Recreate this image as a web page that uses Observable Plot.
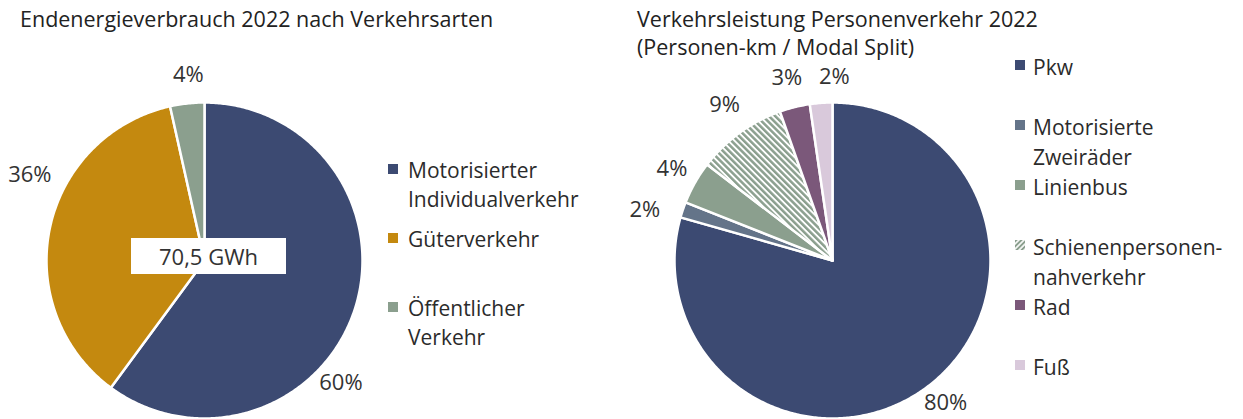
<!DOCTYPE html>
<html>
<head>
<meta charset="utf-8">
<script src="https://cdn.jsdelivr.net/npm/d3@7"></script>
<script src="https://cdn.jsdelivr.net/npm/@observablehq/plot@0.6"></script>
<style>
  body { margin: 0; background: #fff; }
  #root { position: relative; width: 1243px; height: 419px; font-family: "Open Sans", sans-serif; color: #2b2b2b; overflow: hidden; }
  .abs { position: absolute; white-space: nowrap; }
  .title { font-size: 21.5px; line-height: 22px; color: #222; }
  .leg { font-size: 21px; line-height: 29px; }
</style>
</head>
<body>
<div id="root"></div>
<script>
// ---------- data ----------
const leftTitle = ["Endenergieverbrauch 2022 nach Verkehrsarten"];
const leftCategories = ["Motorisierter Individualverkehr", "Güterverkehr", "Öffentlicher Verkehr"];
const leftLegendLines = [["Motorisierter", "Individualverkehr"], ["Güterverkehr"], ["Öffentlicher", "Verkehr"]];
const leftValues = [60.1, 36.4, 3.5];
const leftLabels = ["60%", "36%", "4%"];
const leftTotal = "70,5 GWh";

const rightTitle = ["Verkehrsleistung Personenverkehr 2022", "(Personen-km / Modal Split)"];
const rightCategories = ["Pkw", "Motorisierte Zweiräder", "Linienbus", "Schienenpersonennahverkehr", "Rad", "Fuß"];
const rightLegendLines = [["Pkw"], ["Motorisierte", "Zweiräder"], ["Linienbus"], ["Schienenpersonen-", "nahverkehr"], ["Rad"], ["Fuß"]];
const rightValues = [79.4, 1.6, 4.4, 9.2, 3.1, 2.3];
const rightLabels = ["80%", "2%", "4%", "9%", "3%", "2%"];

// ---------- styles / layout ----------
const leftColors = ["#3c4a72", "#c4890f", "#8b9f8e"];
const rightColors = ["#3c4a72", "#647489", "#8b9f8e", "url(#hatch)", "#7b587a", "#d9c9db"];
const rightSwatch = ["#3c4a72", "#647489", "#8b9f8e", "url(#hatchLeg)", "#7b587a", "#d9c9db"];
const leftLabelLayout = [[23.7, 1.16], [14.1, 1.23], [1.3, 1.18]];      // [angle shift deg, radius factor]
const rightLabelLayout = [[-1.4, 1.15], [-3.7, 1.23], [0.2, 1.17], [1.3, 1.2], [-0.2, 1.19], [4.7, 1.16]];

const root = document.getElementById("root");

function pieData(categories, values, labels, layout) {
  const arcs = d3.pie().sort(null).value(d => d)(values);
  const pts = [];
  const lab = [];
  arcs.forEach((a, i) => {
    const key = categories[i];
    pts.push({key, x: 0, y: 0});
    const n = Math.max(2, Math.ceil((a.endAngle - a.startAngle) / 0.01));
    for (let k = 0; k <= n; k++) {
      const t = a.startAngle + (a.endAngle - a.startAngle) * k / n;
      pts.push({key, x: Math.sin(t), y: Math.cos(t)});
    }
    pts.push({key, x: 0, y: 0});
    const mid = (a.startAngle + a.endAngle) / 2 + layout[i][0] * Math.PI / 180;
    lab.push({text: labels[i], x: layout[i][1] * Math.sin(mid), y: layout[i][1] * Math.cos(mid)});
  });
  return {pts, lab};
}

function piePlot(categories, values, labels, colors, layout, xRange, width) {
  const {pts, lab} = pieData(categories, values, labels, layout);
  return Plot.plot({
    width, height: 419, margin: 0,
    style: {background: "transparent", overflow: "visible"},
    x: {domain: [-1, 1], range: xRange, axis: null},
    y: {domain: [-1, 1], range: [418, 102], axis: null},
    color: {domain: categories, range: colors},
    marks: [
      Plot.line(pts, {x: "x", y: "y", z: "key", fill: "key", stroke: "white", strokeWidth: 2.5, strokeLinejoin: "round"}),
      Plot.text(lab, {x: "x", y: "y", text: "text", fontSize: 22, fill: "#333", fontFamily: "Open Sans"})
    ]
  });
}

function place(el, left, top) {
  el.style.position = "absolute";
  el.style.left = left + "px";
  el.style.top = top + "px";
  root.appendChild(el);
  return el;
}

// left pie
const pL = piePlot(leftCategories, leftValues, leftLabels, leftColors, leftLabelLayout, [46, 362], 620);
place(pL, 0, 0);

// right pie
const pR = piePlot(rightCategories, rightValues, rightLabels, rightColors, rightLabelLayout, [54, 370], 623);
pR.insertAdjacentHTML("afterbegin",
  `<defs>
    <pattern id="hatch" patternUnits="userSpaceOnUse" width="4.4" height="4.4" patternTransform="rotate(-45)">
      <rect width="4.4" height="4.4" fill="#fff"/><rect width="2.5" height="4.4" fill="#8b9f8e"/>
    </pattern>
    <pattern id="hatchLeg" patternUnits="userSpaceOnUse" width="3.6" height="3.6" patternTransform="rotate(45)">
      <rect width="3.6" height="3.6" fill="#fff"/><rect width="2" height="3.6" fill="#8b9f8e"/>
    </pattern>
  </defs>`);
place(pR, 620, 0);

// titles (one div per line)
function title(lines, left, baseline) {
  lines.forEach((ln, i) => {
    const d = document.createElement("div");
    d.className = "abs title";
    d.textContent = ln;
    place(d, left, baseline + i * 28 - ((22 - 21.5 * 1.362) / 2 + 21.5 * 1.069));
  });
}
title(leftTitle, 20, 27);
title(rightTitle, 637, 27);

// total box
const box = document.createElement("div");
box.className = "abs";
box.style.cssText = "width:155px;height:36px;background:#fff;font-size:22px;line-height:36px;text-align:center;color:#333;";
box.textContent = leftTotal;
place(box, 131, 238);

// legends
function legend(lines, fills, swLeft, textLeft, firstBaseline, step, lineH) {
  lines.forEach((ls, i) => {
    const base = firstBaseline + i * step;
    const t = document.createElement("div");
    t.className = "abs leg";
    t.style.lineHeight = lineH + "px";
    t.innerHTML = ls.join("<br>");
    place(t, textLeft, base - ((lineH - 21 * 1.362) / 2 + 21 * 1.069));
    const s = document.createElementNS("http://www.w3.org/2000/svg", "svg");
    s.setAttribute("width", 10); s.setAttribute("height", 10);
    s.innerHTML = `<rect width="10" height="10" fill="${fills[i]}"/>`;
    place(s, swLeft, base - 15);
  });
}
legend(leftLegendLines, leftColors, 388, 408, 179, 69, 29);
legend(rightLegendLines, rightSwatch, 1015, 1033, 75, 60, 30);
</script>
</body>
</html>
